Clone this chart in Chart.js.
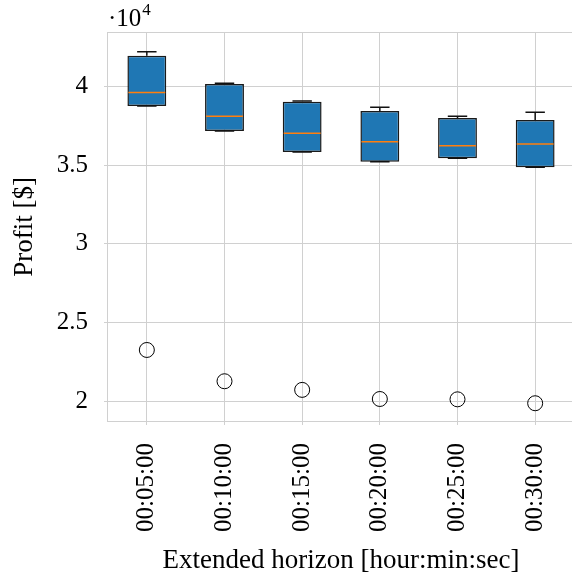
<!DOCTYPE html>
<html>
<head>
<meta charset="utf-8">
<script src="https://cdn.jsdelivr.net/npm/chart.js@4.4.1/dist/chart.umd.min.js"></script>
<style>
  html, body { margin: 0; padding: 0; background: #fff; }
  #wrap { width: 572px; height: 579px; overflow: hidden; position: relative; }
  #c { display: block; width: 600px; height: 579px; }
</style>
</head>
<body>
<div id="wrap"><canvas id="c" width="600" height="579"></canvas></div>
<script>
// Profit distribution per extended horizon (values in $)
const horizons = ['00:05:00', '00:10:00', '00:15:00', '00:20:00', '00:25:00', '00:30:00'];
const whiskerLow  = [38770, 37180, 35850, 35230, 35450, 34870];
const q1          = [38770, 37180, 35850, 35230, 35450, 34870];
const median      = [39640, 38120, 37040, 36500, 36250, 36350];
const q3          = [41970, 40170, 39050, 38450, 38010, 37880];
const whiskerHigh = [42230, 40220, 39090, 38690, 38120, 38370];
const outliers    = [23250, 21260, 20710, 20130, 20110, 19860];
const yTicks      = [20000, 25000, 30000, 35000, 40000];
const yMin = 18730, yMax = 43420;

const FONT = "'Liberation Serif', 'Times New Roman', serif";
const GRID = '#d0d0d0';

// whiskers, caps and medians drawn on top of the box bars
const boxParts = {
  id: 'boxParts',
  afterDatasetsDraw(chart) {
    const { ctx } = chart;
    const y = chart.scales.y;
    const meta = chart.getDatasetMeta(0);
    ctx.save();
    meta.data.forEach((bar, i) => {
      const cx = bar.x;
      const half = bar.width / 2;
      const cap = half / 2;
      const yq1 = y.getPixelForValue(q1[i]);
      const yq3 = y.getPixelForValue(q3[i]);
      const ylo = y.getPixelForValue(whiskerLow[i]);
      const yhi = y.getPixelForValue(whiskerHigh[i]);
      const ymed = y.getPixelForValue(median[i]);
      ctx.strokeStyle = '#111';
      ctx.lineWidth = 1.5;
      ctx.beginPath();
      ctx.moveTo(cx, yq3); ctx.lineTo(cx, yhi);
      ctx.moveTo(cx - cap, yhi); ctx.lineTo(cx + cap, yhi);
      ctx.moveTo(cx, yq1); ctx.lineTo(cx, ylo);
      ctx.moveTo(cx - cap, ylo); ctx.lineTo(cx + cap, ylo);
      ctx.stroke();
      ctx.strokeStyle = '#ff7f0e';
      ctx.lineWidth = 1.5;
      ctx.beginPath();
      ctx.moveTo(cx - half + 1, ymed); ctx.lineTo(cx + half - 1, ymed);
      ctx.stroke();
    });
    ctx.restore();
  }
};

// light frame around the plot area and the axis multiplier
const frame = {
  id: 'frame',
  beforeDatasetsDraw(chart) {
    const { ctx, chartArea: a } = chart;
    ctx.save();
    ctx.strokeStyle = GRID;
    ctx.lineWidth = 1;
    ctx.strokeRect(a.left - 0.5, a.top - 0.5, a.right - a.left + 1, a.bottom - a.top + 1);
    ctx.restore();
  },
  afterDraw(chart) {
    const { ctx, chartArea: a } = chart;
    ctx.save();
    ctx.fillStyle = '#000';
    ctx.textBaseline = 'alphabetic';
    ctx.textAlign = 'left';
    ctx.font = '25px ' + FONT;
    const base = '\u00b710';
    ctx.fillText(base, a.left, 26);
    const w = ctx.measureText(base).width;
    ctx.font = '17px ' + FONT;
    ctx.fillText('4', a.left + w + 1, 15);
    ctx.restore();
  }
};

new Chart(document.getElementById('c'), {
  type: 'bar',
  data: {
    labels: horizons,
    datasets: [
      {
        type: 'bar',
        data: q1.map((v, i) => [v, q3[i]]),
        backgroundColor: '#1f77b4',
        borderColor: '#1a1a1a',
        borderWidth: 1.5,
        borderSkipped: false,
        barPercentage: 0.5,
        categoryPercentage: 1.0,
        order: 2
      },
      {
        type: 'line',
        data: outliers,
        showLine: false,
        pointRadius: 7.5,
        pointBorderWidth: 1,
        pointBorderColor: '#000',
        pointBackgroundColor: 'rgba(0,0,0,0)',
        order: 1
      }
    ]
  },
  options: {
    responsive: false,
    animation: false,
    layout: { padding: { left: 0, top: 33, right: 26, bottom: 0 } },
    plugins: { legend: { display: false }, tooltip: { enabled: false } },
    scales: {
      x: {
        offset: true,
        grid: { color: GRID, offset: false, tickLength: 4, drawTicks: true, tickColor: GRID },
        border: { display: false },
        ticks: {
          minRotation: 90, maxRotation: 90, autoSkip: false, padding: 18,
          color: '#000', font: { family: FONT, size: 25 }
        },
        title: {
          display: true, text: 'Extended horizon [hour:min:sec]', color: '#000',
          font: { family: FONT, size: 27 }, padding: { top: 0, bottom: 2 }
        },
        afterFit(scale) {
          scale.height = 158;
          scale.paddingLeft = 0;
          scale.paddingRight = 0;
        }
      },
      y: {
        min: yMin, max: yMax,
        grid: { color: GRID, tickLength: 4, tickColor: GRID },
        border: { display: false },
        afterBuildTicks(scale) { scale.ticks = yTicks.map(v => ({ value: v })); },
        ticks: {
          padding: 16, color: '#000', font: { family: FONT, size: 25 },
          callback: v => String(v / 10000)
        },
        title: {
          display: true, text: 'Profit [$]', color: '#000',
          font: { family: FONT, size: 27 }, padding: { top: 9, bottom: 0 }
        },
        afterFit(scale) { scale.width = 108; }
      }
    }
  },
  plugins: [frame, boxParts]
});
</script>
</body>
</html>
